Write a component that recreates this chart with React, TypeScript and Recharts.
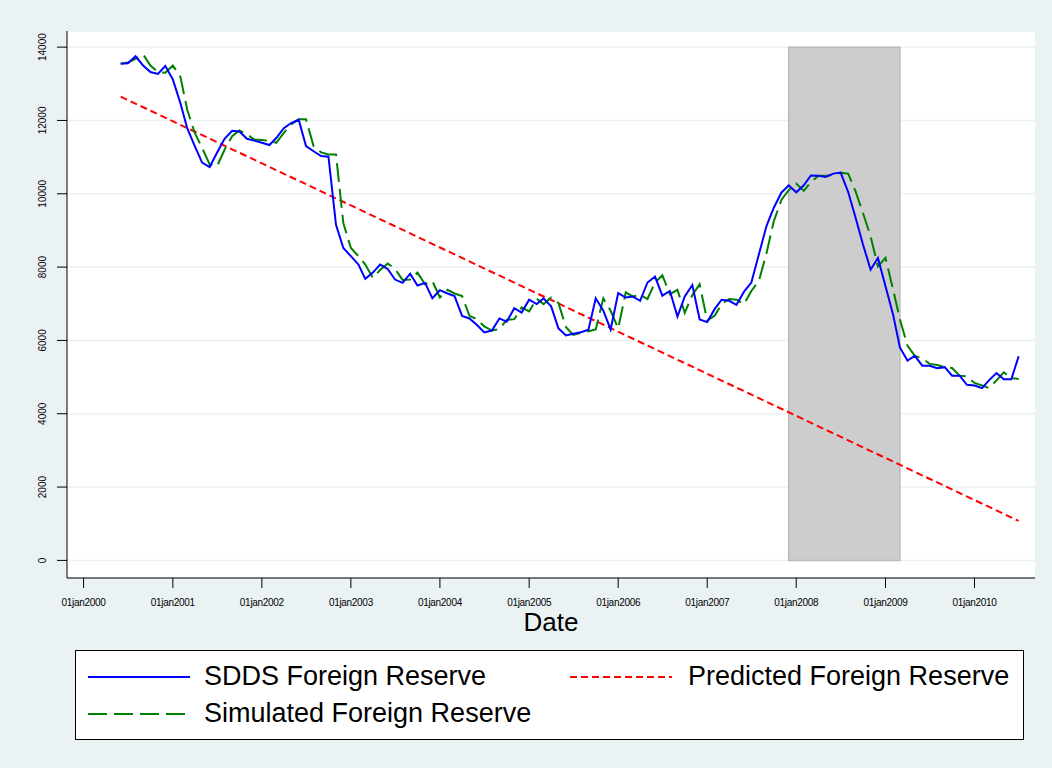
import { CartesianGrid, Line, LineChart, ReferenceArea, XAxis, YAxis } from 'recharts';

const FONT = 'Arial, "Liberation Sans", sans-serif';

// monthly observations, first one is June 2000
const START_YEAR = 2000;
const START_MONTH = 6;

const SDDS_RESERVE = [
  13550, 13560, 13750, 13500, 13320, 13270, 13490, 13120, 12470, 11790, 11300, 10850,
  10730, 11120, 11500, 11720, 11700, 11500, 11450, 11390, 11330, 11520, 11790, 11930,
  12020, 11300, 11160, 11030, 11010, 9155, 8520, 8300, 8070, 7680, 7850, 8070,
  7950, 7660, 7570, 7820, 7500, 7570, 7150, 7370, 7280, 7210, 6670, 6600,
  6420, 6220, 6270, 6600, 6510, 6880, 6760, 7110, 6990, 7150, 6930, 6330,
  6135, 6180, 6225, 6290, 7150, 6810, 6300, 7290, 7170, 7200, 7080, 7580,
  7740, 7220, 7350, 6650, 7200, 7510, 6570, 6500, 6860, 7110, 7080, 6970,
  7330, 7580, 8350, 9120, 9620, 10030, 10230, 10040, 10230, 10500, 10490, 10460,
  10550, 10580, 10050, 9330, 8610, 7930, 8250, 7480, 6710, 5810, 5450, 5580,
  5310, 5310, 5240, 5270, 5040, 5040, 4790, 4770, 4700, 4910, 5110, 4940,
  4940, 5570,
];

const SIMULATED_RESERVE = [
  13550, 13580, 13680, 13800, 13500, 13320, 13300, 13500, 13190, 12290, 11660, 11250,
  10800, 10750, 11200, 11570, 11730, 11620, 11480, 11470, 11440, 11390, 11660, 11890,
  12030, 12030, 11300, 11130, 11070, 11070, 9200, 8520, 8300, 8070, 7710, 7920,
  8100, 7950, 7650, 7660, 7850, 7530, 7620, 7170, 7380, 7280, 7210, 6670,
  6580, 6380, 6270, 6310, 6560, 6580, 6900, 6790, 7140, 6990, 7170, 7020,
  6360, 6150, 6210, 6250, 6300, 7150, 6810, 6330, 7310, 7200, 7240, 7130,
  7580, 7780, 7260, 7380, 6750, 7240, 7530, 6540, 6680, 6990, 7130, 7110,
  6990, 7350, 7620, 8380, 9250, 9830, 10100, 10280, 10080, 10320, 10490, 10490,
  10510, 10570, 10550, 10050, 9470, 8840, 8020, 8250, 7390, 6580, 5860, 5580,
  5510, 5360, 5330, 5270, 5250, 5040, 5020, 4840, 4770, 4700, 4910, 5130,
  4970, 4950,
];

// the predicted series is a straight trend: read at its first and last month
const PREDICTED_FIRST = 12650;
const PREDICTED_LAST = 1077;

const Y_TICKS = [0, 2000, 4000, 6000, 8000, 10000, 12000, 14000];
const TICK_YEARS = [2000, 2001, 2002, 2003, 2004, 2005, 2006, 2007, 2008, 2009, 2010];

// shaded crisis period
const SHADE_FROM = [2007, 12];
const SHADE_TO = [2009, 3];

const utc = (year: number, month: number, day = 1) => Date.UTC(year, month - 1, day);

const data = SDDS_RESERVE.map((v, i) => {
  const m = START_MONTH - 1 + i;
  const last = i === SDDS_RESERVE.length - 1;
  return {
    t: Date.UTC(START_YEAR + Math.floor(m / 12), m % 12, 1),
    sdds: v,
    sim: SIMULATED_RESERVE[i],
    pred: i === 0 ? PREDICTED_FIRST : last ? PREDICTED_LAST : null,
  };
});

const xTicks = TICK_YEARS.map((y) => utc(y, 1));

function YTick({ x, y, payload }: any) {
  return (
    <text
      transform={`translate(${x - 9},${y}) rotate(-90)`}
      textAnchor="middle"
      fontSize={10}
      fontFamily={FONT}
      fill="#000"
    >
      {payload.value}
    </text>
  );
}

function XTick({ x, y, payload }: any) {
  const year = new Date(payload.value).getUTCFullYear();
  return (
    <text x={x} y={y} dy={16} textAnchor="middle" fontSize={10} letterSpacing={-0.3} fontFamily={FONT} fill="#000">
      {`01jan${year}`}
    </text>
  );
}

function LegendLine({ color, dash }: { color: string; dash?: string }) {
  return (
    <svg width={104} height={6} style={{ display: 'block' }}>
      <line x1={0} y1={3} x2={102} y2={3} stroke={color} strokeWidth={2} strokeDasharray={dash} />
    </svg>
  );
}

export default function App() {
  return (
    <div
      style={{
        position: 'absolute',
        left: 0,
        top: 0,
        width: 1052,
        height: 768,
        background: '#eaf2f3',
        fontFamily: FONT,
      }}
    >
      <LineChart width={1052} height={640} data={data} margin={{ top: 31, right: 17, left: 0, bottom: 0 }}>
        <CartesianGrid fill="#ffffff" vertical={false} stroke="#eaf2f3" strokeWidth={1.5} />
        <XAxis
          dataKey="t"
          type="number"
          domain={[utc(1999, 10, 25), utc(2010, 9, 6)]}
          ticks={xTicks}
          interval={0}
          tick={<XTick />}
          tickSize={10}
          height={62}
          stroke="#000"
          allowDataOverflow
        />
        <YAxis
          type="number"
          domain={[-480, 14440]}
          ticks={Y_TICKS}
          interval={0}
          tick={<YTick />}
          tickSize={10}
          width={67}
          stroke="#000"
          allowDataOverflow
        />
        <ReferenceArea
          x1={utc(SHADE_FROM[0], SHADE_FROM[1])}
          x2={utc(SHADE_TO[0], SHADE_TO[1])}
          y1={0}
          y2={14000}
          fill="#cdcdcd"
          fillOpacity={1}
          stroke="#bababa"
          strokeWidth={1.5}
        />
        <Line
          dataKey="pred"
          stroke="#ff0000"
          strokeWidth={2}
          strokeDasharray="7 4"
          dot={false}
          connectNulls
          isAnimationActive={false}
        />
        <Line dataKey="sim" stroke="#008000" strokeWidth={2} strokeDasharray="19 7" dot={false} isAnimationActive={false} />
        <Line dataKey="sdds" stroke="#0000ff" strokeWidth={2} dot={false} isAnimationActive={false} />
      </LineChart>

      <div style={{ position: 'absolute', left: 0, width: 1102, top: 611, textAlign: 'center', fontSize: 26, lineHeight: '22px', color: '#000' }}>
        Date
      </div>

      {/* Legend */}
      <div
        style={{
          position: 'absolute',
          left: 75,
          top: 650,
          width: 949,
          height: 90,
          background: '#fff',
          border: '1px solid #000',
          boxSizing: 'border-box',
          fontSize: 27,
          color: '#000',
        }}
      >
        <div style={{ position: 'absolute', left: 12, top: 10, display: 'flex', alignItems: 'center', gap: 12 }}>
          <LegendLine color="#0000ff" />
          <span>SDDS Foreign Reserve</span>
        </div>
        <div style={{ position: 'absolute', left: 494, top: 10, display: 'flex', alignItems: 'center', gap: 14 }}>
          <LegendLine color="#ff0000" dash="7 4" />
          <span>Predicted Foreign Reserve</span>
        </div>
        <div style={{ position: 'absolute', left: 12, top: 47, display: 'flex', alignItems: 'center', gap: 12 }}>
          <LegendLine color="#008000" dash="19 7" />
          <span>Simulated Foreign Reserve</span>
        </div>
      </div>
    </div>
  );
}
